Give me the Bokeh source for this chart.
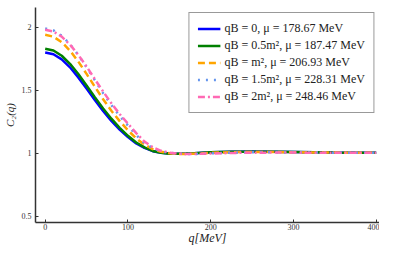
from bokeh.plotting import figure
from bokeh.models import Range1d, Legend, LegendItem, FixedTicker
from bokeh.embed import file_html
from bokeh.resources import INLINE

q = [0, 10, 20, 30, 40, 50, 60, 70, 80, 90, 100, 110, 120, 130, 140, 150, 160, 170,
     180, 190, 200, 225, 250, 275, 300, 325, 350, 375, 400]

c_qb0 = [1.800, 1.786, 1.745, 1.682, 1.602, 1.513, 1.422, 1.335, 1.256, 1.188, 1.128, 1.078,
         1.042, 1.016, 1.003, 0.997, 0.995, 0.996, 0.999, 1.003, 1.007, 1.012, 1.013, 1.011,
         1.009, 1.007, 1.005, 1.004, 1.003]
c_qb05 = [1.830, 1.816, 1.774, 1.710, 1.629, 1.538, 1.445, 1.355, 1.274, 1.202, 1.138, 1.085,
          1.046, 1.018, 1.003, 0.996, 0.995, 0.997, 1.000, 1.004, 1.008, 1.012, 1.012, 1.011,
          1.009, 1.007, 1.005, 1.004, 1.003]
c_qb1 = [1.940, 1.925, 1.882, 1.814, 1.728, 1.630, 1.528, 1.429, 1.337, 1.255, 1.182, 1.118,
         1.068, 1.033, 1.011, 1.000, 0.995, 0.994, 0.996, 0.999, 1.003, 1.008, 1.010, 1.009,
         1.008, 1.006, 1.005, 1.004, 1.003]
c_qb15 = [1.990, 1.975, 1.933, 1.866, 1.780, 1.682, 1.580, 1.477, 1.382, 1.297, 1.220, 1.145,
          1.080, 1.040, 1.015, 1.003, 0.997, 0.994, 0.994, 0.996, 0.999, 1.004, 1.007, 1.007,
          1.006, 1.005, 1.004, 1.003, 1.003]
c_qb2 = [1.980, 1.966, 1.926, 1.862, 1.781, 1.688, 1.588, 1.490, 1.396, 1.311, 1.235, 1.160,
         1.092, 1.048, 1.019, 1.005, 0.997, 0.994, 0.994, 0.996, 0.998, 1.002, 1.004, 1.005,
         1.005, 1.004, 1.004, 1.003, 1.003]

labels = ["qB = 0, μ = 178.67 MeV",
          "qB = 0.5m², μ = 187.47 MeV",
          "qB = m², μ = 206.93 MeV",
          "qB = 1.5m², μ = 228.31 MeV",
          "qB = 2m², μ = 248.46 MeV"]
series = [c_qb0, c_qb05, c_qb1, c_qb15, c_qb2]
colors = ["#0000ff", "#008000", "#ffa500", "#6495ed", "#ff69b4"]
dashes = ["solid", "solid", "7 4", "2 6", "7 3 2 3"]

x_ticks = [0, 100, 200, 300, 400]
y_ticks = [0.5, 1, 1.5, 2]
y_tick_labels = {0.5: "0.5", 1: "1", 1.5: "1.5", 2: "2"}

FONT = "Liberation Serif"

p = figure(width=379, height=247, output_backend="svg", toolbar_location=None,
           x_range=Range1d(-11.7, 404), y_range=Range1d(0.45, 2.157),
           min_border_left=34, min_border_right=0, min_border_top=7, min_border_bottom=18)
p.outline_line_color = None
p.xgrid.visible = False
p.ygrid.visible = False

items = []
for ys, col, d, lab in zip(series, colors, dashes, labels):
    r = p.line(q, ys, line_color=col, line_width=2.5, line_dash=d)
    items.append(LegendItem(label=lab, renderers=[r]))

for ax in (p.xaxis[0], p.yaxis[0]):
    ax.major_tick_in = 3
    ax.major_tick_out = 0
    ax.minor_tick_line_color = None
    ax.axis_line_color = "#333333"
    ax.axis_line_width = 1.5
    ax.major_tick_line_color = "#333333"
    ax.major_label_text_font = FONT
    ax.major_label_text_font_size = "8px"
    ax.major_label_text_color = "#333333"
    ax.axis_label_text_font = FONT
    ax.axis_label_text_font_size = "12px"
    ax.axis_label_text_color = "#222222"

p.xaxis[0].major_label_standoff = 1
p.xaxis[0].axis_label_standoff = -2
p.yaxis[0].major_label_standoff = 4
p.yaxis[0].axis_label_standoff = 3
p.yaxis[0].axis_label_text_font_size = "11px"

p.xaxis[0].ticker = FixedTicker(ticks=x_ticks)
p.yaxis[0].ticker = FixedTicker(ticks=y_ticks)
p.yaxis[0].major_label_overrides = y_tick_labels
p.xaxis[0].axis_label = "q[MeV]"
p.xaxis[0].axis_label_text_font_style = "italic"
p.yaxis[0].axis_label = "C₂(q)"
p.yaxis[0].axis_label_text_font_style = "italic"

legend = Legend(items=items, location="top_right", margin=5, padding=8,
                spacing=2, label_height=13, glyph_height=13, glyph_width=23,
                label_standoff=4, label_text_font=FONT, label_text_font_size="12px",
                label_text_color="#222222", border_line_color="#333333",
                border_line_width=1, background_fill_color="white", background_fill_alpha=1)
p.add_layout(legend)

open("out.html", "w").write(file_html(p, INLINE))
